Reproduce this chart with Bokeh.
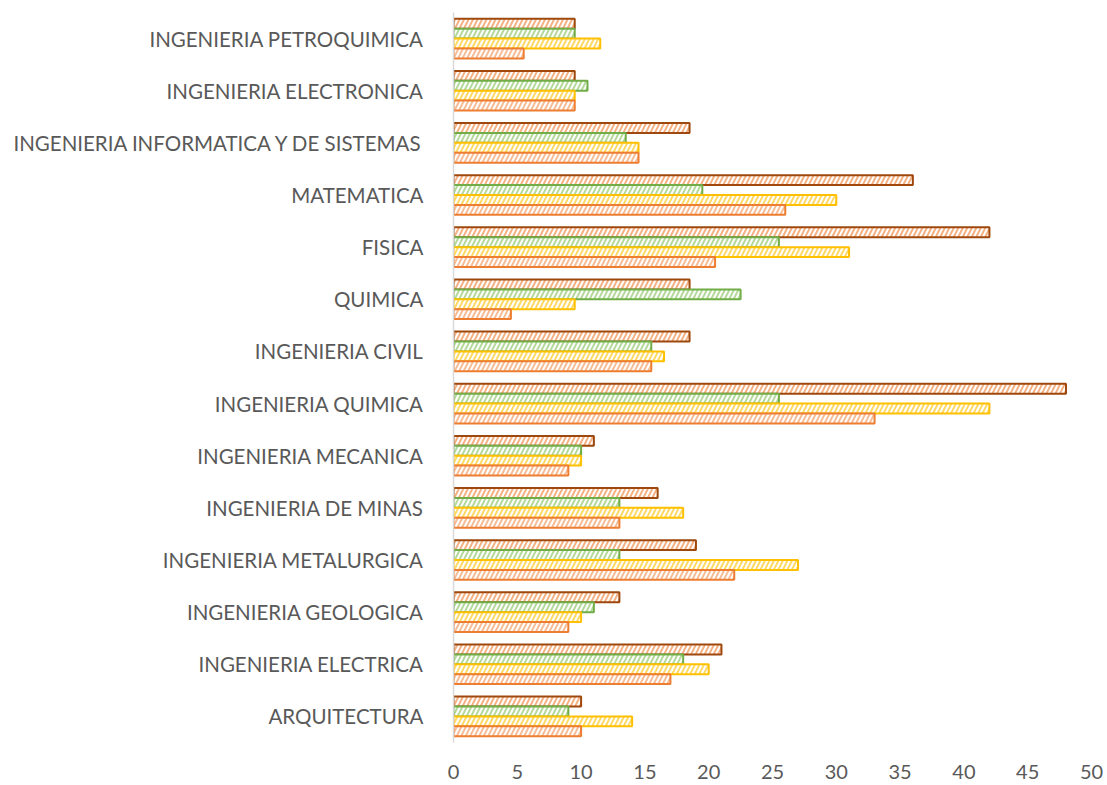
from bokeh.plotting import figure
from bokeh.models import ColumnDataSource, FactorRange, Range1d
from bokeh.transform import dodge
from bokeh.embed import file_html
from bokeh.resources import INLINE

categories = [
    "ARQUITECTURA",
    "INGENIERIA ELECTRICA",
    "INGENIERIA GEOLOGICA",
    "INGENIERIA METALURGICA",
    "INGENIERIA DE MINAS",
    "INGENIERIA MECANICA",
    "INGENIERIA QUIMICA",
    "INGENIERIA CIVIL",
    "QUIMICA",
    "FISICA",
    "MATEMATICA",
    "INGENIERIA INFORMATICA Y DE SISTEMAS",
    "INGENIERIA ELECTRONICA",
    "INGENIERIA PETROQUIMICA",
]

serie_brown = [10, 21, 13, 19, 16, 11, 48, 18.5, 18.5, 42, 36, 18.5, 9.5, 9.5]
serie_green = [9, 18, 11, 13, 13, 10, 25.5, 15.5, 22.5, 25.5, 19.5, 13.5, 10.5, 9.5]
serie_yellow = [14, 20, 10, 27, 18, 10, 42, 16.5, 9.5, 31, 30, 14.5, 9.5, 11.5]
serie_orange = [10, 17, 9, 22, 13, 9, 33, 15.5, 4.5, 20.5, 26, 14.5, 9.5, 5.5]

x_ticks = [0, 5, 10, 15, 20, 25, 30, 35, 40, 45, 50]

source = ColumnDataSource(dict(
    cat=categories,
    brown=serie_brown,
    green=serie_green,
    yellow=serie_yellow,
    orange=serie_orange,
))

p = figure(
    y_range=FactorRange(*categories),
    x_range=Range1d(0, 50),
    frame_width=638,
    frame_height=730,
    min_border_left=453,
    min_border_top=12,
    min_border_right=12,
    min_border_bottom=38,
    output_backend="svg",
    toolbar_location=None,
)
p.y_range.range_padding = 0
p.outline_line_color = None
p.background_fill_color = "white"
p.border_fill_color = "white"

series = [
    ("brown", 0.285, "#f4b183", "#9e480e"),
    ("green", 0.095, "#b4d99b", "#70ad47"),
    ("yellow", -0.095, "#ffd966", "#ffc000"),
    ("orange", -0.285, "#f6bc96", "#ed7d31"),
]
for key, off, fill, line in series:
    p.hbar(
        y=dodge("cat", off, range=p.y_range),
        left=0,
        right=key,
        height=0.19,
        source=source,
        fill_color=fill,
        line_color=line,
        line_width=2,
        hatch_pattern="/",
        hatch_color="white",
        hatch_weight=2,
        hatch_scale=9,
    )

p.xgrid.grid_line_color = None
p.ygrid.grid_line_color = None

p.xaxis.ticker = x_ticks
p.xaxis.axis_line_color = None
p.xaxis.major_tick_line_color = None
p.xaxis.minor_tick_line_color = None
p.xaxis.major_label_text_font = "Lato"
p.xaxis.major_label_text_font_size = "20px"
p.xaxis.major_label_text_color = "#595959"
p.xaxis.major_label_standoff = 16

p.yaxis.axis_line_color = "#d9d9d9"
p.yaxis.axis_line_width = 1.5
p.yaxis.major_tick_line_color = None
p.yaxis.minor_tick_line_color = None
p.yaxis.major_label_text_font = "Lato"
p.yaxis.major_label_text_font_size = "20.5px"
p.yaxis.major_label_text_color = "#595959"
p.yaxis.major_label_standoff = 24

open("out.html", "w").write(file_html(p, INLINE))
